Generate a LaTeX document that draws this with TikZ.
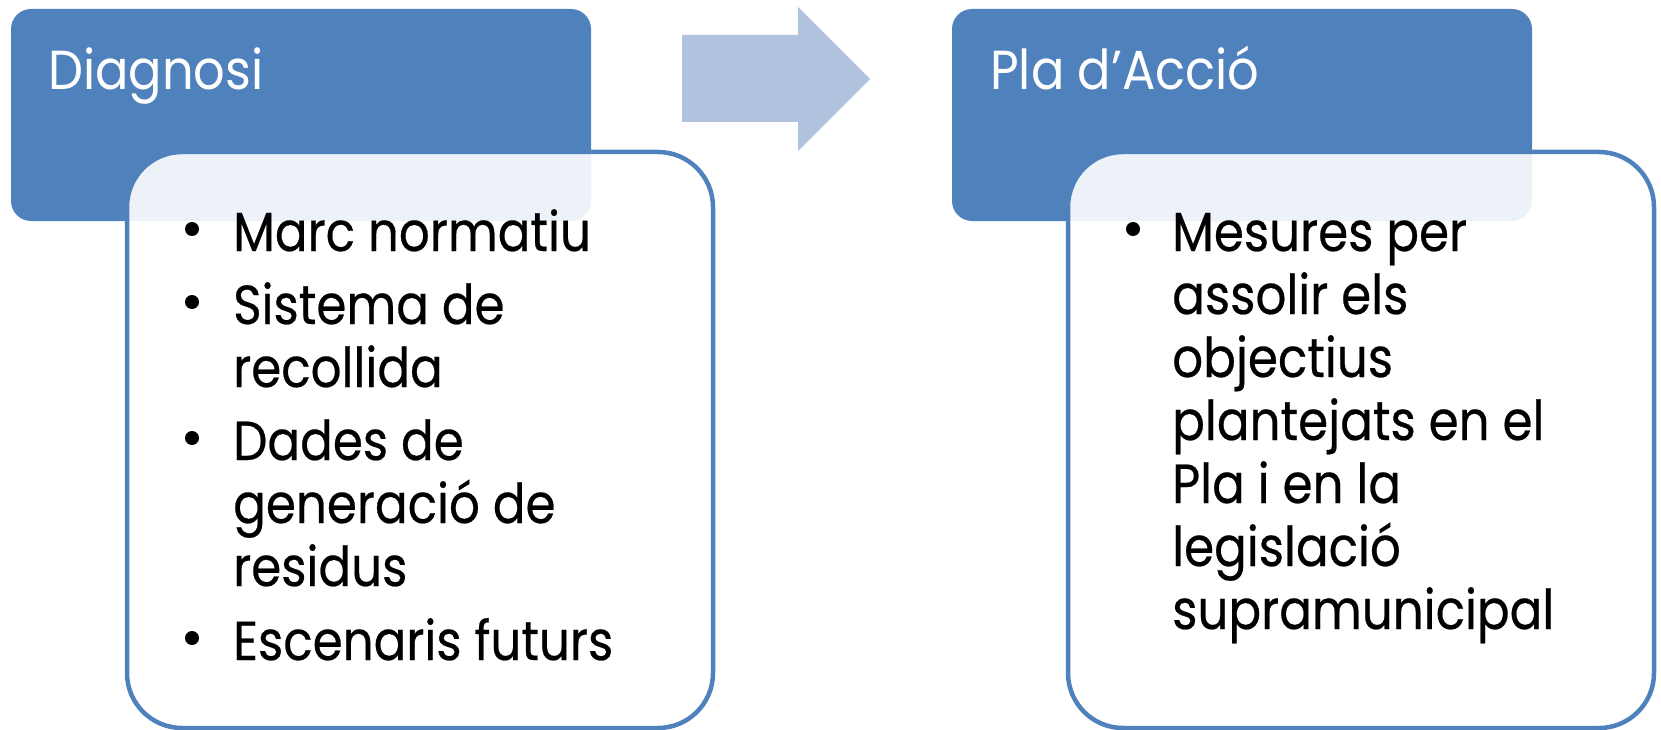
\documentclass[tikz,border=0pt]{standalone}
\usepackage{fontspec}
\setmainfont{Poppins}[FakeStretch=0.9]
\newfontfamily\bodyfont{Poppins}[FakeStretch=0.88,FakeBold=0.4]
\definecolor{accent}{HTML}{4F81BD}
\definecolor{arrowc}{HTML}{B1C2DE}
\tikzset{
  hdrbox/.style={rectangle, rounded corners=20pt, fill=accent, draw=none, minimum width=580pt, minimum height=212pt, inner sep=0pt},
  bodybox/.style={rectangle, rounded corners=55pt, fill=white, fill opacity=0.9, draw=accent, draw opacity=1, line width=4.5pt, minimum width=586pt, minimum height=576pt, inner sep=0pt},
  hdrtext/.style={anchor=base west, inner sep=0pt, text=white, font=\fontsize{55}{63}\selectfont},
  bodytext/.style={anchor=base west, inner sep=0pt, text=black, font=\bodyfont\fontsize{55}{63}\selectfont},
  bulletdot/.style={circle, fill=black, inner sep=0pt, minimum size=14pt},
}
\begin{document}
\begin{tikzpicture}[x=1pt,y=-1pt]
\useasboundingbox (0,0) rectangle (1661,730);
% left column
\node[hdrbox] (h1) at (301,115) {};
\node[hdrtext] (h1t) at (48,90) {Diagnosi};
\node[bodybox] (b1) at (420,440) {};
\node[bulletdot] (d11) at (192,229) {};
\node[bodytext] (l11) at (233,251) {Marc normatiu};
\node[bulletdot] (d12) at (192,302) {};
\node[bodytext] (l12) at (233,324) {Sistema de};
\node[bodytext] (l13) at (233,387) {recollida};
\node[bulletdot] (d13) at (192,438) {};
\node[bodytext] (l14) at (233,460) {Dades de};
\node[bodytext] (l15) at (233,523) {generació de};
\node[bodytext] (l16) at (233,586) {residus};
\node[bulletdot] (d14) at (192,638) {};
\node[bodytext] (l17) at (233,660) {Escenaris futurs};
% arrow
\fill[arrowc] (682,35) -- (798,35) -- (798,7) -- (870,79) -- (798,151) -- (798,122) -- (682,122) -- cycle;
% right column
\node[hdrbox] (h2) at (1242,115) {};
\node[hdrtext] (h2t) at (990,90) {Pla d’Acció};
\node[bodybox] (b2) at (1361,440) {};
\node[bulletdot] (d21) at (1133,229) {};
\node[bodytext] (l21) at (1172,251) {Mesures per};
\node[bodytext] (l22) at (1172,314) {assolir els};
\node[bodytext] (l23) at (1172,377) {objectius};
\node[bodytext] (l24) at (1172,440) {plantejats en el};
\node[bodytext] (l25) at (1172,503) {Pla i en la};
\node[bodytext] (l26) at (1172,566) {legislació};
\node[bodytext] (l27) at (1172,629) {supramunicipal};
\end{tikzpicture}
\end{document}
